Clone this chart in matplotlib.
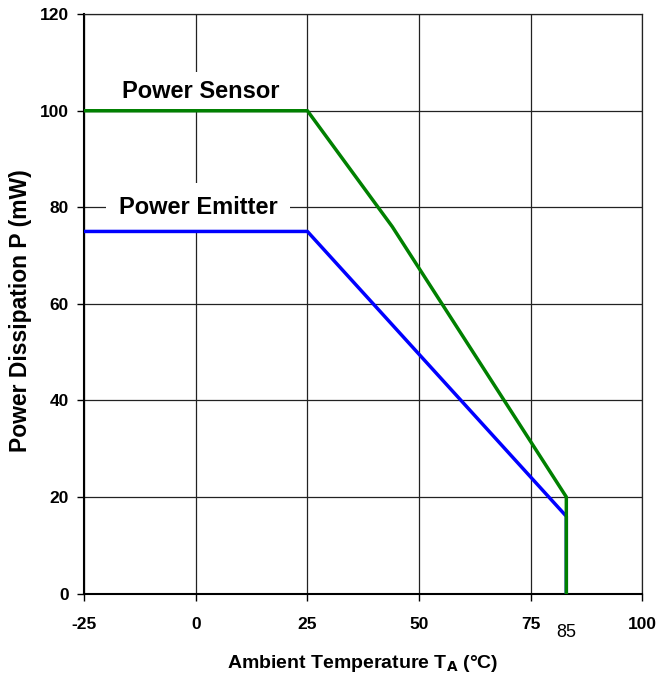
import matplotlib.pyplot as plt

plt.rcParams["font.family"] = ["Liberation Sans", "DejaVu Sans"]
plt.rcParams["axes.unicode_minus"] = False

# 데이터
sensor_t = [-25, 25, 44, 83, 83]
sensor_p = [100, 100, 76, 20, 0]
emitter_t = [-25, 25, 83, 83]
emitter_p = [75, 75, 16, 0]
x_ticks = [-25, 0, 25, 50, 75, 100]
y_ticks = [0, 20, 40, 60, 80, 100, 120]

fig = plt.figure(figsize=(6.58, 6.76), dpi=100)
ax = fig.add_axes([0.128, 0.122, 0.848, 0.857])

ax.plot(sensor_t, sensor_p, color="#008000", linewidth=2.5, zorder=4)
ax.plot(emitter_t, emitter_p, color="#0000ff", linewidth=2.5, zorder=3)

ax.set_xlim(-25, 100)
ax.set_ylim(0, 120)
ax.set_xticks(x_ticks)
ax.set_yticks(y_ticks)
ax.tick_params(direction="out", length=5, width=1, labelsize=12.5)
ax.tick_params(axis="x", pad=12)
ax.tick_params(axis="y", pad=6)
for lab in ax.get_xticklabels() + ax.get_yticklabels():
    lab.set_fontweight("bold")

ax.grid(True, color="#222222", linewidth=0.9)
ax.set_axisbelow(True)
ax.spines["left"].set_linewidth(1.5)
ax.spines["bottom"].set_linewidth(1.5)
for s in ["top", "right"]:
    ax.spines[s].set_color("#222222")
    ax.spines[s].set_linewidth(0.9)

ax.text(1, 104, "Power Sensor", fontsize=17, fontweight="bold",
        ha="center", va="center",
        bbox=dict(facecolor="white", edgecolor="none", pad=6), zorder=2.5)
ax.text(0.5, 80, "Power Emitter", fontsize=17, fontweight="bold",
        ha="center", va="center",
        bbox=dict(facecolor="white", edgecolor="none", pad=9), zorder=2.5)

# 85 표시 (비굵게)
ax.text(83, -8, "85", fontsize=13, ha="center", va="center",
        family=["Liberation Sans Narrow", "Liberation Sans", "DejaVu Sans"],
        clip_on=False)

ax.set_xlabel("Ambient Temperature T$_\\mathbf{A}$ (°C)", fontsize=14,
              fontweight="bold", labelpad=15)
ax.set_ylabel("Power Dissipation P (mW)", fontsize=16.5, fontweight="bold")
ax.yaxis.set_label_coords(-0.094, 0.488)

fig.savefig("out.png", dpi=100)
